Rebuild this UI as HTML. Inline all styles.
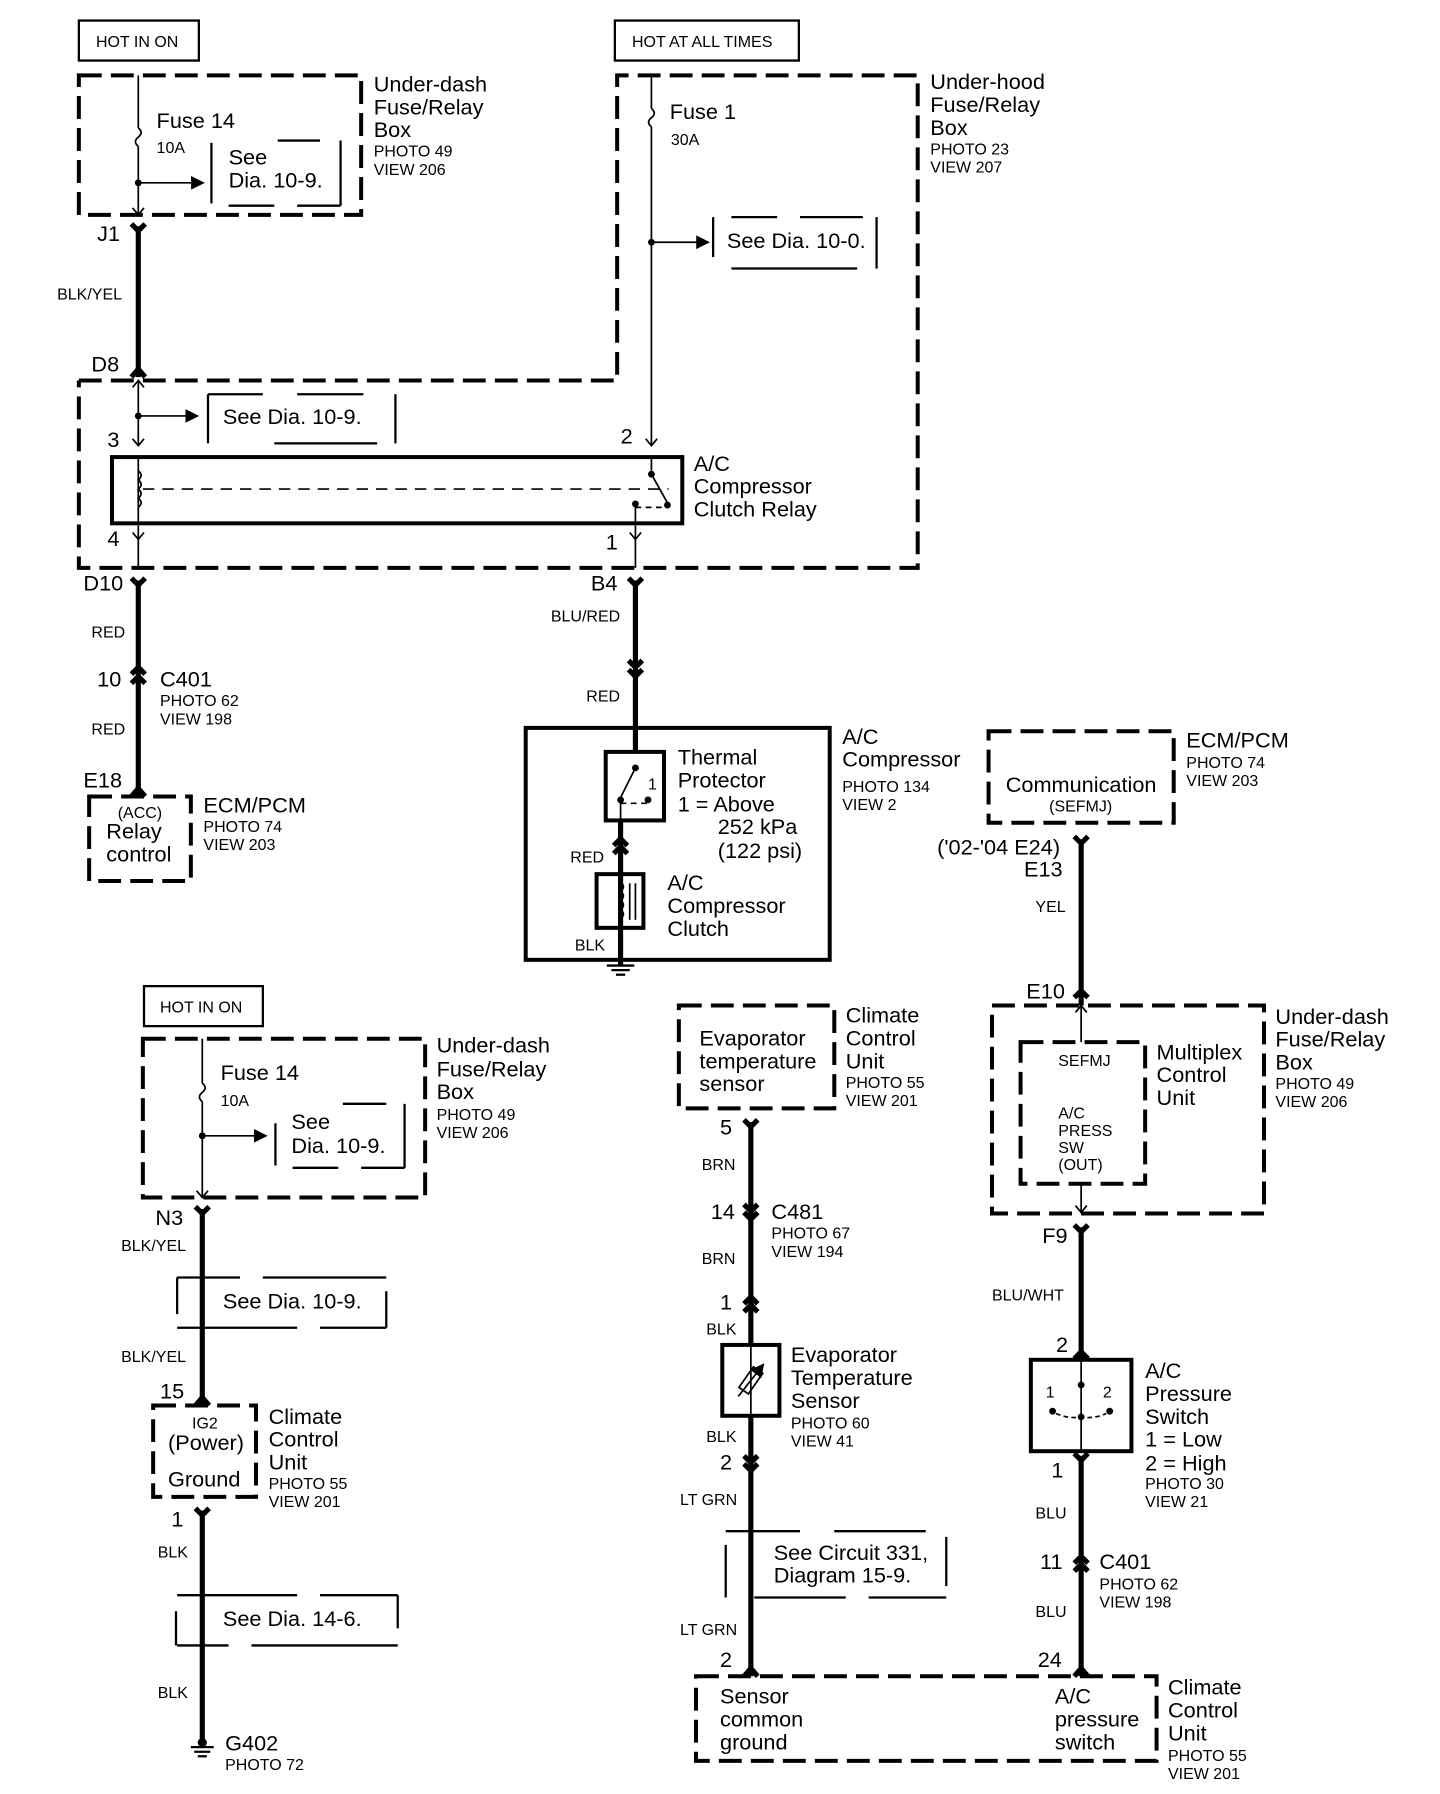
<!DOCTYPE html>
<html><head><meta charset="utf-8"><style>
html,body{margin:0;padding:0;background:#fff;}
svg{display:block;}
text{font-family:"Liberation Sans",Arial,sans-serif;fill:#000;}
.L{font-size:19px;}
.S{font-size:14px;}
.W{font-size:14px;}
.thick{stroke:#000;stroke-width:4.5;fill:none;}
.thin{stroke:#000;stroke-width:1.5;fill:none;}
.dash{stroke:#000;stroke-width:3.5;fill:none;stroke-dasharray:20 8;}
.sdash{stroke:#000;stroke-width:2;fill:none;stroke-dasharray:40 18;}
.box{stroke:#000;stroke-width:2;fill:none;}
.sol{stroke:#000;stroke-width:3.5;fill:none;}
</style></head><body>
<svg width="1440" height="1794" viewBox="0 0 1260 1570" preserveAspectRatio="none" xmlns="http://www.w3.org/2000/svg">
<defs>
<marker id="ar" viewBox="0 0 10 10" refX="9" refY="5" markerWidth="8" markerHeight="8" orient="auto"><path d="M0,0 L10,5 L0,10 z" fill="#000"/></marker>
</defs>

<!-- ===== TOP LEFT ===== -->
<rect x="69" y="18" width="105" height="35" class="box"/>
<text x="84" y="41" class="S">HOT IN ON</text>
<rect x="69" y="66" width="247" height="122" class="dash"/>
<text x="327" y="80" class="L">Under-dash</text>
<text x="327" y="100" class="L">Fuse/Relay</text>
<text x="327" y="120" class="L">Box</text>
<text x="327" y="137" class="S">PHOTO 49</text>
<text x="327" y="153" class="S">VIEW 206</text>
<line x1="121" y1="66" x2="121" y2="112" class="thin"/>
<path d="M121,112 q5,4 0,8 q-5,4 0,8" class="thin"/>
<line x1="121" y1="128" x2="121" y2="188" class="thin"/>
<polyline points="116,182 121,188 126,182" class="thin"/>
<text x="137" y="112" class="L">Fuse 14</text>
<text x="137" y="134" class="S">10A</text>
<circle cx="121" cy="160" r="3"/>
<line x1="121" y1="160" x2="178" y2="160" class="thin" marker-end="url(#ar)"/>
<line x1="185" y1="125" x2="185" y2="178" class="box"/>
<line x1="243" y1="123" x2="280" y2="123" class="box"/>
<line x1="298" y1="123" x2="298" y2="180" class="box"/>
<line x1="200" y1="180" x2="240" y2="180" class="box"/><line x1="260" y1="180" x2="298" y2="180" class="box"/>
<text x="200" y="144" class="L">See</text>
<text x="200" y="164" class="L">Dia.  10-9.</text>

<text x="85" y="211" class="L">J1</text>
<polyline points="115,196 121,202 127,196" class="thick"/>
<line x1="121" y1="198" x2="121" y2="330" class="thick"/>
<polyline points="115,330 121,323 127,330" class="thick"/>
<text x="50" y="262" class="W">BLK/YEL</text>
<text x="80" y="325" class="L">D8</text>

<!-- ===== TOP RIGHT ===== -->
<rect x="538" y="18" width="161" height="35" class="box"/>
<text x="553" y="41" class="S">HOT AT ALL TIMES</text>
<polyline points="69,333 540,333 540,66 803,66 803,497 69,497 69,333" class="dash"/>
<text x="814" y="78" class="L">Under-hood</text>
<text x="814" y="98" class="L">Fuse/Relay</text>
<text x="814" y="118" class="L">Box</text>
<text x="814" y="135" class="S">PHOTO 23</text>
<text x="814" y="151" class="S">VIEW 207</text>
<line x1="570" y1="66" x2="570" y2="95" class="thin"/>
<path d="M570,95 q5,4 0,8 q-5,4 0,8" class="thin"/>
<line x1="570" y1="111" x2="570" y2="390" class="thin"/>
<polyline points="565,384 570,390 575,384" class="thin"/>
<text x="586" y="104" class="L">Fuse 1</text>
<text x="587" y="127" class="S">30A</text>
<circle cx="570" cy="212" r="3"/>
<line x1="570" y1="212" x2="620" y2="212" class="thin" marker-end="url(#ar)"/>
<line x1="624" y1="190" x2="624" y2="225" class="box"/>
<line x1="640" y1="190" x2="680" y2="190" class="box"/><line x1="700" y1="190" x2="755" y2="190" class="box"/>
<line x1="767" y1="190" x2="767" y2="235" class="box"/>
<line x1="640" y1="235" x2="750" y2="235" class="box"/>
<text x="636" y="217" class="L">See Dia. 10-0.</text>

<!-- relay -->
<line x1="121" y1="333" x2="121" y2="390" class="thin"/>
<polyline points="116,339 121,333 126,339" class="thin"/>
<polyline points="116,384 121,390 126,384" class="thin"/>
<circle cx="121" cy="364" r="3"/>
<line x1="121" y1="364" x2="173" y2="364" class="thin" marker-end="url(#ar)"/>
<line x1="182" y1="345" x2="182" y2="388" class="box"/>
<line x1="182" y1="345" x2="230" y2="345" class="box"/><line x1="260" y1="345" x2="318" y2="345" class="box"/>
<line x1="346" y1="345" x2="346" y2="388" class="box"/>
<line x1="240" y1="388" x2="330" y2="388" class="box"/>
<text x="195" y="371" class="L">See Dia. 10-9.</text>
<text x="94" y="391" class="L">3</text>
<text x="543" y="388" class="L">2</text>
<rect x="98" y="400" width="499" height="58" class="sol"/>
<line x1="121" y1="400" x2="121" y2="458" class="thin"/>
<path d="M121,412 q5,4 0,8 q5,4 0,8 q5,4 0,8 q5,4 0,8" class="thin" fill="#fff" stroke="#000"/>
<line x1="125" y1="428" x2="585" y2="428" class="thin" stroke-dasharray="10 7"/>
<line x1="570" y1="400" x2="570" y2="412" class="thin"/>
<circle cx="570" cy="415" r="3"/>
<line x1="570" y1="415" x2="584" y2="440" class="thin"/>
<circle cx="584" cy="442" r="3"/>
<circle cx="556" cy="441" r="3"/>
<line x1="556" y1="444" x2="580" y2="444" class="thin" stroke-dasharray="5 4"/>
<line x1="556" y1="441" x2="556" y2="458" class="thin"/>
<text x="607" y="412" class="L">A/C</text>
<text x="607" y="432" class="L">Compressor</text>
<text x="607" y="452" class="L">Clutch Relay</text>
<text x="94" y="478" class="L">4</text>
<text x="530" y="481" class="L">1</text>
<line x1="121" y1="460" x2="121" y2="497" class="thin"/>
<polyline points="116,466 121,472 126,466" class="thin"/>
<line x1="556" y1="460" x2="556" y2="497" class="thin"/>
<polyline points="551,466 556,472 561,466" class="thin"/>

<!-- D10 wire -->
<text x="73" y="517" class="L">D10</text>
<polyline points="115,506 121,512 127,506" class="thick"/>
<line x1="121" y1="508" x2="121" y2="697" class="thick"/>
<text x="80" y="558" class="W">RED</text>
<text x="85" y="601" class="L">10</text>
<polyline points="115,590 121,584 127,590" class="thick"/>
<polyline points="115,598 121,592 127,598" class="thick"/>
<text x="140" y="601" class="L">C401</text>
<text x="140" y="618" class="S">PHOTO 62</text>
<text x="140" y="634" class="S">VIEW 198</text>
<text x="80" y="643" class="W">RED</text>
<text x="73" y="689" class="L">E18</text>
<polyline points="115,697 121,690 127,697" class="thick"/>
<rect x="78" y="697" width="89" height="74" class="dash"/>
<text x="103" y="716" class="S">(ACC)</text>
<text x="93" y="734" class="L">Relay</text>
<text x="93" y="754" class="L">control</text>
<text x="178" y="711" class="L">ECM/PCM</text>
<text x="178" y="728" class="S">PHOTO 74</text>
<text x="178" y="744" class="S">VIEW 203</text>

<!-- B4 wire -->
<text x="517" y="517" class="L">B4</text>
<polyline points="550,506 556,512 562,506" class="thick"/>
<line x1="556" y1="508" x2="556" y2="658" class="thick"/>
<text x="482" y="544" class="W">BLU/RED</text>
<polyline points="550,578 556,584 562,578" class="thick"/>
<polyline points="550,586 556,592 562,586" class="thick"/>
<text x="513" y="614" class="W">RED</text>
<rect x="460" y="637" width="266" height="203" class="sol"/>
<rect x="530" y="658" width="51" height="60" class="sol"/>
<circle cx="556" cy="672" r="3"/>
<line x1="556" y1="672" x2="543" y2="698" class="thin"/>
<circle cx="543" cy="700" r="3"/>
<circle cx="567" cy="700" r="3"/>
<line x1="543" y1="703" x2="567" y2="703" class="thin" stroke-dasharray="5 4"/>
<line x1="543" y1="700" x2="543" y2="718" class="thin"/>
<text x="567" y="691" class="S">1</text>
<text x="593" y="669" class="L">Thermal</text>
<text x="593" y="689" class="L">Protector</text>
<text x="593" y="710" class="L">1 =  Above</text>
<text x="628" y="730" class="L">252 kPa</text>
<text x="628" y="751" class="L">(122 psi)</text>
<line x1="543" y1="718" x2="543" y2="845" class="thick"/>
<polyline points="537,740 543,734 549,740" class="thick"/>
<polyline points="537,747 543,741 549,747" class="thick"/>
<text x="499" y="755" class="W">RED</text>
<rect x="522" y="765" width="41" height="47" class="sol" fill="#fff"/>
<line x1="543" y1="765" x2="543" y2="812" class="thin"/>
<path d="M543,772 q5,4 0,8 q5,4 0,8 q5,4 0,8 q5,4 0,8" class="thin"/>
<line x1="551" y1="773" x2="551" y2="805" class="thin"/><line x1="556" y1="773" x2="556" y2="805" class="thin"/>
<text x="584" y="779" class="L">A/C</text>
<text x="584" y="799" class="L">Compressor</text>
<text x="584" y="819" class="L">Clutch</text>
<text x="503" y="832" class="W">BLK</text>
<line x1="531" y1="845" x2="555" y2="845" class="box"/>
<line x1="535" y1="849" x2="551" y2="849" class="box"/>
<line x1="539" y1="853" x2="547" y2="853" class="box"/>
<text x="737" y="651" class="L">A/C</text>
<text x="737" y="671" class="L">Compressor</text>
<text x="737" y="693" class="S">PHOTO 134</text>
<text x="737" y="709" class="S">VIEW 2</text>

<!-- ECM comm -->
<rect x="865" y="640" width="162" height="80" class="dash"/>
<text x="880" y="693" class="L">Communication</text>
<text x="918" y="710" class="S">(SEFMJ)</text>
<text x="1038" y="654" class="L">ECM/PCM</text>
<text x="1038" y="672" class="S">PHOTO 74</text>
<text x="1038" y="688" class="S">VIEW 203</text>
<text x="820" y="748" class="L">('02-'04 E24)</text>
<text x="896" y="767" class="L">E13</text>
<polyline points="940,732 946,738 952,732" class="thick"/>
<line x1="946" y1="735" x2="946" y2="880" class="thick"/>
<text x="906" y="798" class="W">YEL</text>
<text x="898" y="874" class="L">E10</text>
<polyline points="940,873 946,867 952,873" class="thick"/>
<rect x="868" y="880" width="238" height="182" class="dash"/>
<rect x="893" y="912" width="109" height="124" class="dash"/>
<line x1="946" y1="880" x2="946" y2="912" class="thin"/>
<polyline points="941,886 946,880 951,886" class="thin"/>
<line x1="946" y1="1036" x2="946" y2="1062" class="thin"/>
<polyline points="941,1055 946,1061 951,1055" class="thin"/>
<text x="926" y="933" class="S">SEFMJ</text>
<text x="926" y="979" class="S">A/C</text>
<text x="926" y="994" class="S">PRESS</text>
<text x="926" y="1009" class="S">SW</text>
<text x="926" y="1024" class="S">(OUT)</text>
<text x="1012" y="927" class="L">Multiplex</text>
<text x="1012" y="947" class="L">Control</text>
<text x="1012" y="967" class="L">Unit</text>
<text x="1116" y="896" class="L">Under-dash</text>
<text x="1116" y="916" class="L">Fuse/Relay</text>
<text x="1116" y="936" class="L">Box</text>
<text x="1116" y="953" class="S">PHOTO 49</text>
<text x="1116" y="969" class="S">VIEW 206</text>
<text x="912" y="1088" class="L">F9</text>
<polyline points="940,1072 946,1078 952,1072" class="thick"/>
<line x1="946" y1="1074" x2="946" y2="1190" class="thick"/>
<text x="868" y="1138" class="W">BLU/WHT</text>
<text x="924" y="1183" class="L">2</text>
<polyline points="940,1189 946,1183 952,1189" class="thick"/>
<rect x="902" y="1190" width="88" height="80" class="sol"/>
<line x1="946" y1="1190" x2="946" y2="1270" class="thin"/>
<circle cx="946" cy="1212" r="3"/>
<circle cx="946" cy="1240" r="3"/>
<circle cx="921" cy="1235" r="3"/><circle cx="971" cy="1235" r="3"/>
<path d="M924,1237 Q935,1242 946,1240 Q957,1242 968,1237" class="thin" stroke-dasharray="4 3"/>
<text x="915" y="1223" class="S">1</text>
<text x="965" y="1223" class="S">2</text>
<text x="1002" y="1206" class="L">A/C</text>
<text x="1002" y="1226" class="L">Pressure</text>
<text x="1002" y="1246" class="L">Switch</text>
<text x="1002" y="1266" class="L">1 =  Low</text>
<text x="1002" y="1287" class="L">2 =  High</text>
<text x="1002" y="1303" class="S">PHOTO 30</text>
<text x="1002" y="1319" class="S">VIEW 21</text>
<text x="920" y="1293" class="L">1</text>
<polyline points="940,1272 946,1278 952,1272" class="thick"/>
<line x1="946" y1="1274" x2="946" y2="1467" class="thick"/>
<text x="906" y="1329" class="W">BLU</text>
<text x="910" y="1373" class="L">11</text>
<polyline points="940,1368 946,1362 952,1368" class="thick"/>
<polyline points="940,1375 946,1369 952,1375" class="thick"/>
<text x="962" y="1373" class="L">C401</text>
<text x="962" y="1391" class="S">PHOTO 62</text>
<text x="962" y="1407" class="S">VIEW 198</text>
<text x="906" y="1415" class="W">BLU</text>
<text x="908" y="1459" class="L">24</text>
<polyline points="940,1467 946,1460 952,1467" class="thick"/>

<!-- bottom box -->
<rect x="609" y="1467" width="403" height="74" class="dash"/>
<text x="630" y="1491" class="L">Sensor</text>
<text x="630" y="1511" class="L">common</text>
<text x="630" y="1531" class="L">ground</text>
<text x="923" y="1491" class="L">A/C</text>
<text x="923" y="1511" class="L">pressure</text>
<text x="923" y="1531" class="L">switch</text>
<text x="1022" y="1483" class="L">Climate</text>
<text x="1022" y="1503" class="L">Control</text>
<text x="1022" y="1523" class="L">Unit</text>
<text x="1022" y="1541" class="S">PHOTO 55</text>
<text x="1022" y="1557" class="S">VIEW 201</text>

<!-- evaporator column -->
<rect x="594" y="880" width="136" height="90" class="dash"/>
<text x="612" y="915" class="L">Evaporator</text>
<text x="612" y="935" class="L">temperature</text>
<text x="612" y="955" class="L">sensor</text>
<text x="740" y="895" class="L">Climate</text>
<text x="740" y="915" class="L">Control</text>
<text x="740" y="935" class="L">Unit</text>
<text x="740" y="952" class="S">PHOTO 55</text>
<text x="740" y="968" class="S">VIEW 201</text>
<text x="630" y="993" class="L">5</text>
<polyline points="651,980 657,986 663,980" class="thick"/>
<line x1="657" y1="982" x2="657" y2="1177" class="thick"/>
<text x="614" y="1024" class="W">BRN</text>
<text x="622" y="1067" class="L">14</text>
<polyline points="651,1054 657,1060 663,1054" class="thick"/>
<polyline points="651,1061 657,1067 663,1061" class="thick"/>
<text x="675" y="1067" class="L">C481</text>
<text x="675" y="1084" class="S">PHOTO 67</text>
<text x="675" y="1100" class="S">VIEW 194</text>
<text x="614" y="1106" class="W">BRN</text>
<text x="630" y="1146" class="L">1</text>
<polyline points="651,1141 657,1135 663,1141" class="thick"/>
<polyline points="651,1148 657,1142 663,1148" class="thick"/>
<text x="618" y="1168" class="W">BLK</text>
<rect x="632" y="1177" width="50" height="62" class="sol"/>
<line x1="657" y1="1177" x2="657" y2="1239" class="thin"/>
<rect x="652" y="1197" width="10" height="22" class="thin" transform="rotate(35 657 1208)"/>
<line x1="646" y1="1222" x2="668" y2="1194" class="thin" marker-end="url(#ar)"/>
<text x="692" y="1192" class="L">Evaporator</text>
<text x="692" y="1212" class="L">Temperature</text>
<text x="692" y="1232" class="L">Sensor</text>
<text x="692" y="1250" class="S">PHOTO 60</text>
<text x="692" y="1266" class="S">VIEW 41</text>
<text x="618" y="1262" class="W">BLK</text>
<line x1="657" y1="1239" x2="657" y2="1467" class="thick"/>
<text x="630" y="1286" class="L">2</text>
<polyline points="651,1274 657,1280 663,1274" class="thick"/>
<polyline points="651,1281 657,1287 663,1281" class="thick"/>
<text x="595" y="1317" class="W">LT GRN</text>
<line x1="635" y1="1340" x2="700" y2="1340" class="box"/><line x1="730" y1="1340" x2="810" y2="1340" class="box"/>
<line x1="635" y1="1352" x2="635" y2="1398" class="box"/>
<line x1="828" y1="1345" x2="828" y2="1388" class="box"/>
<line x1="660" y1="1398" x2="740" y2="1398" class="box"/><line x1="760" y1="1398" x2="828" y2="1398" class="box"/>
<text x="677" y="1365" class="L">See Circuit 331,</text>
<text x="677" y="1385" class="L">Diagram 15-9.</text>
<text x="595" y="1431" class="W">LT GRN</text>
<text x="630" y="1459" class="L">2</text>
<polyline points="651,1467 657,1460 663,1467" class="thick"/>

<!-- ===== BOTTOM LEFT ===== -->
<rect x="126" y="863" width="104" height="35" class="box"/>
<text x="140" y="886" class="S">HOT IN ON</text>
<rect x="125" y="909" width="247" height="139" class="dash"/>
<text x="382" y="921" class="L">Under-dash</text>
<text x="382" y="942" class="L">Fuse/Relay</text>
<text x="382" y="962" class="L">Box</text>
<text x="382" y="980" class="S">PHOTO 49</text>
<text x="382" y="996" class="S">VIEW 206</text>
<line x1="177" y1="909" x2="177" y2="948" class="thin"/>
<path d="M177,948 q5,4 0,8 q-5,4 0,8" class="thin"/>
<line x1="177" y1="964" x2="177" y2="1048" class="thin"/>
<polyline points="172,1042 177,1048 182,1042" class="thin"/>
<text x="193" y="945" class="L">Fuse 14</text>
<text x="193" y="968" class="S">10A</text>
<circle cx="177" cy="994" r="3"/>
<line x1="177" y1="994" x2="233" y2="994" class="thin" marker-end="url(#ar)"/>
<line x1="241" y1="983" x2="241" y2="1020" class="box"/>
<line x1="300" y1="966" x2="338" y2="966" class="box"/>
<line x1="354" y1="966" x2="354" y2="1022" class="box"/>
<line x1="256" y1="1022" x2="296" y2="1022" class="box"/><line x1="316" y1="1022" x2="354" y2="1022" class="box"/>
<text x="255" y="988" class="L">See</text>
<text x="255" y="1009" class="L">Dia.  10-9.</text>
<text x="136" y="1072" class="L">N3</text>
<polyline points="171,1056 177,1062 183,1056" class="thick"/>
<line x1="177" y1="1058" x2="177" y2="1230" class="thick"/>
<text x="106" y="1095" class="W">BLK/YEL</text>
<line x1="155" y1="1118" x2="210" y2="1118" class="box"/><line x1="230" y1="1118" x2="338" y2="1118" class="box"/>
<line x1="155" y1="1118" x2="155" y2="1150" class="box"/>
<line x1="338" y1="1130" x2="338" y2="1162" class="box"/>
<line x1="155" y1="1162" x2="260" y2="1162" class="box"/><line x1="280" y1="1162" x2="338" y2="1162" class="box"/>
<text x="195" y="1145" class="L">See Dia. 10-9.</text>
<text x="106" y="1192" class="W">BLK/YEL</text>
<text x="140" y="1224" class="L">15</text>
<polyline points="171,1230 177,1223 183,1230" class="thick"/>
<rect x="134" y="1230" width="90" height="80" class="dash"/>
<text x="168" y="1250" class="S">IG2</text>
<text x="147" y="1269" class="L">(Power)</text>
<text x="147" y="1301" class="L">Ground</text>
<text x="235" y="1246" class="L">Climate</text>
<text x="235" y="1266" class="L">Control</text>
<text x="235" y="1286" class="L">Unit</text>
<text x="235" y="1303" class="S">PHOTO 55</text>
<text x="235" y="1319" class="S">VIEW 201</text>
<text x="150" y="1336" class="L">1</text>
<polyline points="171,1320 177,1326 183,1320" class="thick"/>
<line x1="177" y1="1322" x2="177" y2="1525" class="thick"/>
<text x="138" y="1363" class="W">BLK</text>
<line x1="155" y1="1396" x2="260" y2="1396" class="box"/><line x1="280" y1="1396" x2="348" y2="1396" class="box"/>
<line x1="154" y1="1410" x2="154" y2="1440" class="box"/>
<line x1="348" y1="1396" x2="348" y2="1425" class="box"/>
<line x1="155" y1="1440" x2="200" y2="1440" class="box"/><line x1="220" y1="1440" x2="348" y2="1440" class="box"/>
<text x="195" y="1423" class="L">See Dia. 14-6.</text>
<text x="138" y="1486" class="W">BLK</text>
<circle cx="177" cy="1525" r="4"/>
<line x1="167" y1="1529" x2="187" y2="1529" class="box"/>
<line x1="170" y1="1533" x2="184" y2="1533" class="box"/>
<line x1="173" y1="1537" x2="181" y2="1537" class="box"/>
<text x="197" y="1532" class="L">G402</text>
<text x="197" y="1549" class="S">PHOTO 72</text>
</svg>
</body></html>
